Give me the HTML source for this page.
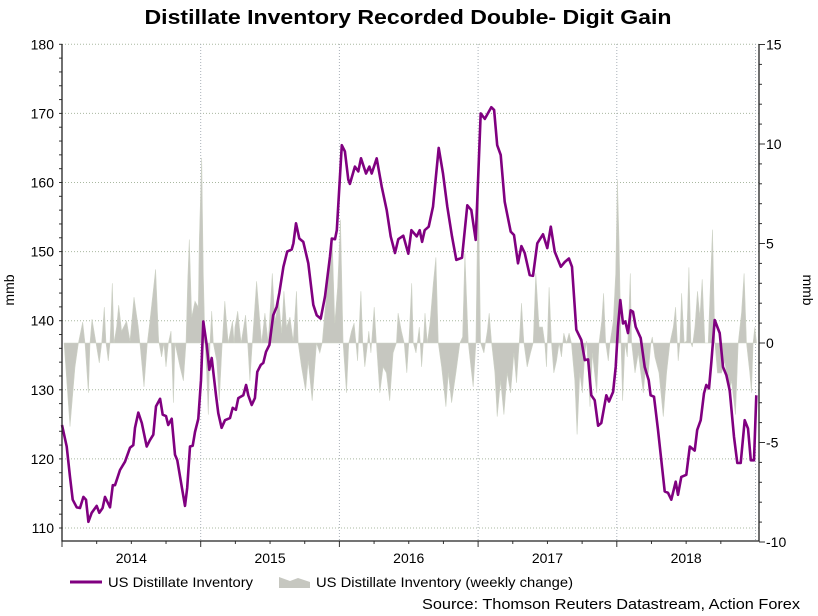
<!DOCTYPE html>
<html><head><meta charset="utf-8"><style>
body{margin:0;background:#fff;}
svg{display:block;font-family:"Liberation Sans",Arial,sans-serif;}
</style></head><body>
<svg id="chart" width="818" height="616" viewBox="0 0 818 616">
<text x="408" y="24" text-anchor="middle" font-size="20" font-weight="bold" textLength="527" lengthAdjust="spacingAndGlyphs">Distillate Inventory Recorded Double- Digit Gain</text>
<g id="grid"></g>
<g id="area"></g>
<g id="line"></g>
<g id="axes"></g>
<text x="14" y="290" font-size="14" text-anchor="middle" transform="rotate(-90 14 290)">mmb</text>
<text x="803" y="290" font-size="14" text-anchor="middle" transform="rotate(90 803 290)">mmb</text>
<g>
<line x1="70" y1="582" x2="102" y2="582" stroke="#800080" stroke-width="3"/>
<text x="108" y="587" font-size="14" textLength="145" lengthAdjust="spacingAndGlyphs">US Distillate Inventory</text>
<polygon points="279,588 279,577 290,581 298,578 310,582 310,588" fill="#c6c7c0"/>
<text x="316" y="587" font-size="14" textLength="257" lengthAdjust="spacingAndGlyphs">US Distillate Inventory (weekly change)</text>
</g>
<text x="800" y="609" font-size="15" text-anchor="end" textLength="378" lengthAdjust="spacingAndGlyphs">Source: Thomson Reuters Datastream, Action Forex</text>
</svg>
<script>
const lineDates=[2014.00,2014.034,2014.058,2014.077,2014.106,2014.130,2014.154,2014.173,2014.190,2014.214,2014.250,2014.269,2014.293,2014.310,2014.346,2014.366,2014.382,2014.418,2014.454,2014.490,2014.514,2014.526,2014.550,2014.575,2014.611,2014.634,2014.658,2014.678,2014.707,2014.726,2014.750,2014.766,2014.791,2014.815,2014.831,2014.863,2014.887,2014.903,2014.923,2014.942,2014.959,2014.983,2015.002,2015.019,2015.043,2015.062,2015.079,2015.110,2015.127,2015.151,2015.175,2015.211,2015.231,2015.254,2015.271,2015.307,2015.327,2015.343,2015.368,2015.391,2015.408,2015.433,2015.451,2015.471,2015.495,2015.512,2015.523,2015.548,2015.567,2015.596,2015.624,2015.656,2015.668,2015.687,2015.711,2015.740,2015.776,2015.812,2015.836,2015.865,2015.896,2015.932,2015.945,2015.968,2015.981,2016.017,2016.040,2016.064,2016.076,2016.112,2016.136,2016.156,2016.192,2016.216,2016.233,2016.269,2016.305,2016.341,2016.370,2016.401,2016.425,2016.461,2016.497,2016.519,2016.557,2016.579,2016.596,2016.615,2016.644,2016.675,2016.716,2016.747,2016.778,2016.812,2016.843,2016.884,2016.922,2016.951,2016.983,2017.019,2017.048,2017.095,2017.115,2017.138,2017.163,2017.192,2017.235,2017.259,2017.288,2017.312,2017.336,2017.372,2017.396,2017.427,2017.468,2017.499,2017.524,2017.552,2017.596,2017.625,2017.655,2017.677,2017.708,2017.744,2017.769,2017.793,2017.816,2017.841,2017.865,2017.888,2017.924,2017.944,2017.973,2017.992,2018.009,2018.025,2018.045,2018.061,2018.081,2018.100,2018.117,2018.136,2018.172,2018.201,2018.230,2018.244,2018.268,2018.297,2018.345,2018.369,2018.393,2018.425,2018.441,2018.465,2018.501,2018.526,2018.562,2018.580,2018.605,2018.629,2018.645,2018.665,2018.682,2018.706,2018.742,2018.766,2018.790,2018.814,2018.845,2018.869,2018.893,2018.922,2018.946,2018.966,2018.989,2019.006];
const inventory=[124.9,121.8,117.4,114.1,113.0,112.9,114.5,114.1,110.9,112.2,113.2,112.2,112.9,114.5,113.0,116.2,116.2,118.4,119.6,121.6,122.0,124.5,126.7,125.2,121.8,122.7,123.5,127.6,128.7,126.4,126.2,124.9,125.8,120.6,119.8,116.0,113.2,115.8,121.8,121.9,123.9,125.8,131.4,139.9,136.5,132.9,134.6,129.2,126.6,124.5,125.6,125.9,127.4,127.1,128.8,129.2,130.7,129.2,127.8,128.8,132.6,133.6,133.9,135.5,136.5,139.1,140.8,142.0,144.0,147.8,150.0,150.3,151.2,154.1,151.9,151.4,148.3,142.3,140.8,140.3,143.5,149.3,151.9,151.8,153.1,165.4,164.5,160.4,159.8,162.3,161.6,163.5,161.3,162.3,161.3,163.5,159.4,156.0,152.2,149.8,151.8,152.3,149.7,153.1,152.2,153.1,151.4,153.1,153.6,156.5,165.0,161.3,156.5,152.2,148.8,149.1,156.7,156.0,151.7,170.0,169.2,170.9,170.5,165.4,164.0,157.2,152.9,152.4,148.3,150.8,149.8,146.6,146.5,151.2,152.5,150.5,153.6,150.0,147.8,148.5,149.0,147.8,138.7,137.2,134.3,134.4,129.2,128.5,124.8,125.2,129.2,128.3,129.7,133.3,139.1,143.0,139.6,139.9,138.2,141.5,141.3,139.1,137.5,133.3,131.4,129.2,129.0,124.2,115.3,115.1,114.1,116.7,114.8,117.4,117.7,121.8,121.2,124.2,125.6,129.5,130.7,130.2,134.1,140.1,138.2,133.3,132.1,129.9,123.2,119.4,119.4,125.6,124.4,119.8,119.8,129.2];
const changeDates=[2014.015,2014.058,2014.094,2014.118,2014.149,2014.166,2014.190,2014.202,2014.216,2014.245,2014.269,2014.286,2014.305,2014.317,2014.334,2014.346,2014.363,2014.375,2014.394,2014.409,2014.430,2014.466,2014.490,2014.519,2014.550,2014.562,2014.591,2014.615,2014.634,2014.675,2014.697,2014.718,2014.735,2014.750,2014.767,2014.786,2014.803,2014.815,2014.851,2014.875,2014.894,2014.906,2014.918,2014.935,2014.959,2014.983,2014.990,2015.007,2015.019,2015.031,2015.043,2015.055,2015.067,2015.079,2015.091,2015.115,2015.134,2015.155,2015.174,2015.198,2015.229,2015.241,2015.247,2015.267,2015.291,2015.324,2015.339,2015.355,2015.372,2015.403,2015.439,2015.463,2015.487,2015.516,2015.535,2015.564,2015.583,2015.600,2015.619,2015.643,2015.667,2015.691,2015.703,2015.727,2015.756,2015.775,2015.804,2015.835,2015.859,2015.876,2015.895,2015.927,2015.948,2015.967,2015.987,2016.008,2016.027,2016.051,2016.068,2016.087,2016.106,2016.131,2016.155,2016.169,2016.183,2016.203,2016.212,2016.227,2016.251,2016.267,2016.291,2016.315,2016.339,2016.363,2016.387,2016.411,2016.423,2016.447,2016.467,2016.486,2016.500,2016.521,2016.533,2016.552,2016.576,2016.593,2016.605,2016.617,2016.634,2016.653,2016.677,2016.696,2016.713,2016.737,2016.768,2016.785,2016.809,2016.840,2016.869,2016.888,2016.905,2016.929,2016.948,2016.965,2016.984,2017.001,2017.018,2017.042,2017.066,2017.080,2017.097,2017.121,2017.138,2017.162,2017.186,2017.210,2017.234,2017.258,2017.277,2017.296,2017.313,2017.330,2017.354,2017.378,2017.397,2017.416,2017.440,2017.464,2017.481,2017.493,2017.512,2017.529,2017.546,2017.565,2017.584,2017.601,2017.618,2017.637,2017.656,2017.673,2017.697,2017.714,2017.733,2017.752,2017.769,2017.783,2017.807,2017.824,2017.855,2017.872,2017.891,2017.905,2017.920,2017.939,2017.951,2017.975,2017.992,2018.004,2018.016,2018.030,2018.042,2018.059,2018.076,2018.097,2018.107,2018.131,2018.155,2018.191,2018.208,2018.227,2018.246,2018.256,2018.275,2018.304,2018.335,2018.359,2018.383,2018.407,2018.424,2018.443,2018.455,2018.467,2018.486,2018.503,2018.520,2018.534,2018.544,2018.563,2018.582,2018.599,2018.616,2018.635,2018.659,2018.678,2018.690,2018.707,2018.726,2018.755,2018.779,2018.808,2018.827,2018.856,2018.875,2018.899,2018.918,2018.935,2018.959,2018.971,2018.983,2018.995,2019.007];
const weeklyChange=[0,-4.2,-1.2,0,1.05,0,-2.5,0,1.2,0,-1.0,0,1.8,0,-0.9,0,3.0,0,0.8,1.9,0.6,1.1,0.1,2.3,0.8,0,-2.2,0,1.1,3.7,0.1,-0.7,0,-1.2,0,0.6,-3.0,0,-1.2,-1.9,0,3.1,5.2,1.3,2.1,1.8,5.2,9.3,3.5,0,-1.5,-3.6,0,1.6,0,-0.9,-2.9,0,2.1,0,1.1,0,0.8,1.6,0,1.4,0,-1.9,0,3.1,0,1.5,0,3.5,1.1,2.1,0.5,2.6,0.8,1.3,0.1,2.6,0,-1.2,-2.4,-0.9,-2.9,0,-0.5,0,1.5,3.8,5.2,1.0,2.8,6.2,0,-2.5,0,0.6,1.0,-0.9,2.6,0,-1.2,0,0.6,-0.5,1.8,0,-2.5,-1.2,-1.5,-2.9,-0.5,0,1.5,0.6,0,-1.5,0,3.0,0,-0.5,0.8,-1.2,0,1.5,0,1.0,3.0,4.3,0,-1.2,-3.2,-1.5,-3.0,-1.5,0,0.3,4.5,0,-1.2,-2.2,0,8.3,0,-0.5,0.6,1.5,0,-1.5,-3.7,-1.9,-3.6,-1.5,-2.5,-0.5,-2.0,0,2.0,0,-1.2,-0.5,0,3.5,0.8,0.8,0,-1.2,2.8,0,-1.5,-0.9,0,-0.7,0.5,0,0.5,0,-1.9,-4.6,-1.5,-2.5,-0.5,0.1,-3.2,-0.5,-2.5,0,1.1,2.5,0,-0.9,0,1.1,3.5,8.2,5.2,0,-2.9,0,-0.7,3.5,0,-1.5,-0.5,-2.5,-1.2,-1.5,0,0.3,-0.7,-1.5,-3.7,-1.5,0,0.8,1.8,-0.9,0,2.5,0,0.1,3.8,0,-0.2,0.8,2.6,1.3,3.2,0,0,3.5,5.7,0,-1.5,-1.5,-0.9,-2.5,-1.9,-3.6,0,1.5,3.5,0,-1.5,-2.5,0,0.8,0];
const leftTicks=[110,120,130,140,150,160,170,180];
const rightTicks=[-10,-5,0,5,10,15];
const yearLabels=["2014","2015","2016","2017","2018"];

const NS="http://www.w3.org/2000/svg";
const X0=62,X1=759,YT=44,YB=541;
const xS=t=>X0+(t-2014)*138.7;
const yL=v=>528-(v-110)*6.91;
const yR=v=>343-v*19.9;
function mk(tag,attrs,parent){const e=document.createElementNS(NS,tag);for(const k in attrs)e.setAttribute(k,attrs[k]);parent.appendChild(e);return e;}
const grid=document.getElementById('grid'),axes=document.getElementById('axes');
leftTicks.forEach(v=>{
  const l=mk('line',{x1:X0,x2:X1,y1:yL(v),y2:yL(v),stroke:'#a9b8a0','stroke-width':1,'stroke-dasharray':'1,2'},grid);
  
  
  const t=mk('text',{x:54,y:yL(v)+5,'font-size':14,'text-anchor':'end'},axes);
  t.textContent=v;
  
  
});
for(let v=110;v<=180;v+=2){mk('line',{x1:X0-3,x2:X0,y1:yL(v),y2:yL(v),stroke:'#333','stroke-width':1},axes);}
for(let v=-10;v<=15;v+=1){mk('line',{x1:X1,x2:X1+3,y1:yR(v),y2:yR(v),stroke:'#333','stroke-width':1},axes);}
rightTicks.forEach(v=>{
  mk('line',{x1:X1,x2:X1+6,y1:yR(v),y2:yR(v),stroke:'#333','stroke-width':1},axes);
  const t=mk('text',{x:766,y:yR(v)+5,'font-size':14},axes);
  t.textContent=v;
  
  
});
for(let y=2015;y<=2019;y++){
  const l=mk('line',{x1:xS(y),x2:xS(y),y1:YT,y2:YB,stroke:'#a9b0b8','stroke-width':1,'stroke-dasharray':'1,2'},grid);
  
  
}
for(let q=2014;q<=2018.99;q+=0.25){mk('line',{x1:xS(q),x2:xS(q),y1:YB,y2:YB+(Math.abs(q-Math.round(q))<0.01?6:3),stroke:'#333','stroke-width':1},axes);}
yearLabels.forEach((s,i)=>{
  const t=mk('text',{x:xS(2014.5+i),y:563,'font-size':14,'text-anchor':'middle'},axes);
  t.textContent=s;
  
  
});
const ax=mk('path',{d:`M${X0},${YT}V${YB}H${X1}V${YT}`,fill:'none',stroke:'#222','stroke-width':1.3},axes);


let d=`M${xS(changeDates[0])},${yR(0)}`;
changeDates.forEach((t,i)=>{d+=`L${xS(t).toFixed(1)},${yR(weeklyChange[i]).toFixed(1)}`;});
d+=`L${xS(changeDates[changeDates.length-1])},${yR(0)}Z`;
const ar=mk('path',{d:d,fill:'#c6c7c0',stroke:'#cdd2c5','stroke-width':0.6},document.getElementById('area'));


const pts=lineDates.map((t,i)=>`${xS(t).toFixed(1)},${yL(inventory[i]).toFixed(1)}`).join(' ');
const pl=mk('polyline',{points:pts,fill:'none',stroke:'#800080','stroke-width':2.6,'stroke-linejoin':'round'},document.getElementById('line'));


</script>
</body></html>
